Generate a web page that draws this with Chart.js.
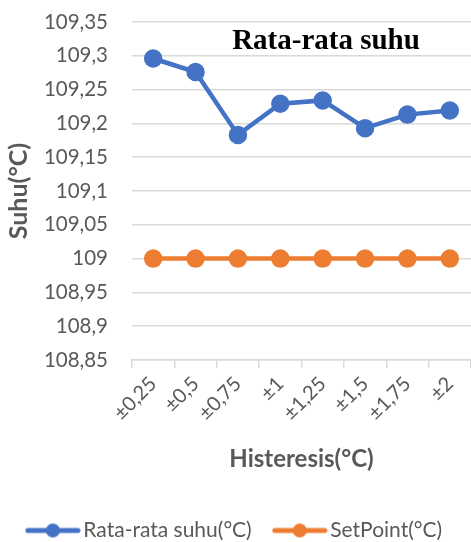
<!DOCTYPE html>
<html>
<head>
<meta charset="utf-8">
<script src="https://cdn.jsdelivr.net/npm/chart.js@4"></script>
<style>
  html, body { margin: 0; padding: 0; background: #fff; }
  #wrap { width: 471px; height: 542px; }
</style>
</head>
<body>
<div id="wrap"><canvas id="chart" width="471" height="542"></canvas></div>
<script>
const labels = ['±0,25', '±0,5', '±0,75', '±1', '±1,25', '±1,5', '±1,75', '±2'];
const avgTemp = [109.296, 109.276, 109.183, 109.229, 109.234, 109.193, 109.213, 109.219];
const setPoint = [109, 109, 109, 109, 109, 109, 109, 109];
const yMin = 108.85;
const yMax = 109.35;
const yStep = 0.05;

const BLUE = '#4472c4';
const ORANGE = '#ed7d31';
const TEXT = '#595959';
const GRID = '#d9d9d9';

// legend marker: a short line with a dot in the middle
function marker(color) {
  const c = document.createElement('canvas');
  c.width = 56; c.height = 16;
  const g = c.getContext('2d');
  g.strokeStyle = color;
  g.lineWidth = 5;
  g.lineCap = 'round';
  g.beginPath(); g.moveTo(3, 8); g.lineTo(53, 8); g.stroke();
  g.fillStyle = color;
  g.beginPath(); g.arc(28, 8, 7, 0, Math.PI * 2); g.fill();
  return c;
}

const innerTitle = {
  id: 'innerTitle',
  afterLayout(chart) {
    // push the legend a bit lower, like the original
    chart.legend.top += 9;
    chart.legend.bottom += 9;
  },
  afterDraw(chart) {
    const { ctx, chartArea } = chart;
    ctx.save();
    ctx.font = 'bold 29px "Liberation Serif"';
    ctx.fillStyle = '#000';
    ctx.textAlign = 'center';
    ctx.textBaseline = 'alphabetic';
    ctx.fillText('Rata-rata suhu', chartArea.left + 194, 49);
    ctx.restore();
  }
};

new Chart(document.getElementById('chart'), {
  type: 'line',
  data: {
    labels: labels,
    datasets: [
      { label: 'Rata-rata suhu(°C)', data: avgTemp, borderColor: BLUE, backgroundColor: BLUE,
        borderWidth: 4.5, pointRadius: 7, pointHoverRadius: 7, tension: 0 },
      { label: 'SetPoint(°C)', data: setPoint, borderColor: ORANGE, backgroundColor: ORANGE,
        borderWidth: 4.5, pointRadius: 7, pointHoverRadius: 7, tension: 0 }
    ]
  },
  options: {
    responsive: false,
    animation: false,
    layout: { autoPadding: false, padding: { left: 4, right: 0, top: 22, bottom: 0 } },
    plugins: {
      tooltip: { enabled: false },
      legend: {
        position: 'bottom',
        labels: {
          usePointStyle: true,
          pointStyleWidth: 40,
          color: TEXT,
          font: { family: 'Lato', size: 21 },
          padding: 28,
          generateLabels(chart) {
            return chart.data.datasets.map((ds, i) => ({
              text: ds.label,
              fontColor: TEXT,
              pointStyle: marker(ds.borderColor),
              datasetIndex: i,
              hidden: false,
              lineWidth: 0
            }));
          }
        }
      }
    },
    scales: {
      x: {
        offset: true,
        afterFit: s => { s.height = 123; s.paddingLeft = 0; s.paddingRight = 0; },
        grid: { offset: true, drawOnChartArea: false, drawTicks: true, tickLength: 8, color: GRID, lineWidth: 1.5 },
        border: { color: GRID, width: 1.5 },
        ticks: { color: TEXT, font: { family: 'Lato', size: 20 }, minRotation: 45, maxRotation: 45, padding: 4 },
        title: { display: true, text: 'Histeresis(°C)', color: TEXT, font: { family: 'Lato', size: 24, weight: 'bold' }, padding: { top: 0, bottom: 9 } }
      },
      y: {
        min: yMin,
        max: yMax,
        afterFit: s => { s.width = 128; s.paddingTop = 0; s.paddingBottom = 0; },
        grid: { color: GRID, lineWidth: 1.5, drawTicks: false },
        border: { display: false },
        ticks: {
          stepSize: yStep,
          autoSkip: false,
          color: TEXT,
          font: { family: 'Lato', size: 20.5 },
          padding: 24,
          callback: v => String(Math.round(v * 100) / 100).replace('.', ',')
        },
        title: { display: true, text: 'Suhu(°C)', color: TEXT, font: { family: 'Lato', size: 25, weight: 'bold' }, padding: { top: 0, bottom: 0 } }
      }
    }
  },
  plugins: [innerTitle]
});
</script>
</body>
</html>
